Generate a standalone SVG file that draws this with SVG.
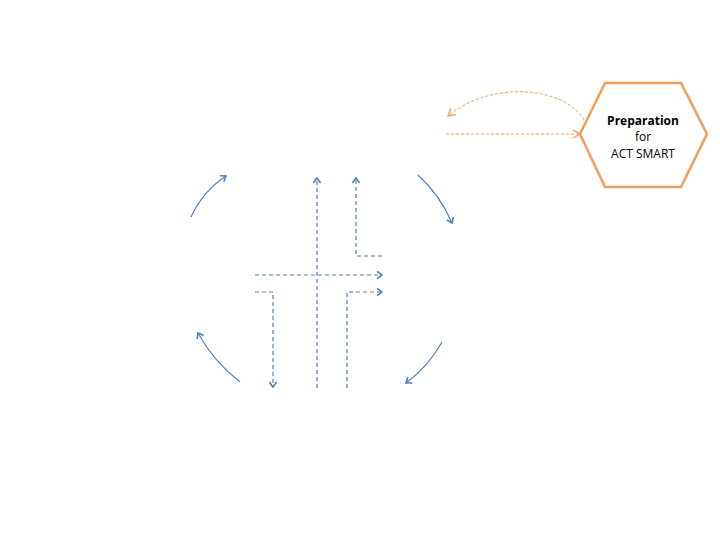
<svg xmlns="http://www.w3.org/2000/svg" width="720" height="540" viewBox="0 0 720 540">
<defs>
<marker id="ab" viewBox="0 0 10 10" refX="8.5" refY="5" markerWidth="9" markerHeight="9" orient="auto" markerUnits="userSpaceOnUse">
<path d="M3,1 L8.5,5 L3,9" fill="none" stroke="#4F81BD" stroke-width="1.8"/>
</marker>
<marker id="ao" viewBox="0 0 10 10" refX="9" refY="5" markerWidth="10" markerHeight="10" orient="auto" markerUnits="userSpaceOnUse">
<path d="M2,1 L9,5 L2,9" fill="none" stroke="#F59D56" stroke-width="1.3"/>
</marker>
</defs>
<style>
.b{fill:none;stroke:#4F81BD;stroke-width:1.2;stroke-dasharray:4,3}
.bs{fill:none;stroke:#4F81BD;stroke-width:1.2}
.o{fill:none;stroke:#F59D56;stroke-width:1;stroke-dasharray:3,2}
.t{font-family:"Open Sans","Liberation Sans",sans-serif;font-size:12px;fill:#000;text-anchor:middle}
</style>
<rect width="720" height="540" fill="#fff"/>
<g id="connectors">
<path class="b" d="M317,388 L317,178" marker-end="url(#ab)"/>
<path class="b" d="M382,256 L356,256 L356,178" marker-end="url(#ab)"/>
<path class="b" d="M255,275 L382,275" marker-end="url(#ab)"/>
<path class="b" d="M255,292 L273,292 L273,387" marker-end="url(#ab)"/>
<path class="b" d="M347,388 L347,292 L382,292" marker-end="url(#ab)"/>
<path class="bs" d="M191,217 Q203,191 226,176" marker-end="url(#ab)"/>
<path class="bs" d="M418,175 Q440,195 452,223" marker-end="url(#ab)"/>
<path class="bs" d="M240,382 Q214,362 198,333" marker-end="url(#ab)"/>
<path class="bs" d="M442,342 Q428,367 406,383" marker-end="url(#ab)"/>
<path class="o" d="M446,134 L580,134" marker-end="url(#ao)"/>
<path class="o" d="M584,120 C562,84 488,82 448,116" marker-end="url(#ao)"/>
</g>
<g id="preparation">
<polygon points="580,134 605,83 681,83 707,134 681,187 605,187" fill="#fff" stroke="#F59D56" stroke-width="2.5"/>
<text class="t" x="643" y="125" font-weight="bold">Preparation</text>
<text class="t" x="643" y="141">for</text>
<text class="t" x="643" y="158">ACT SMART</text>
</g>
</svg>
